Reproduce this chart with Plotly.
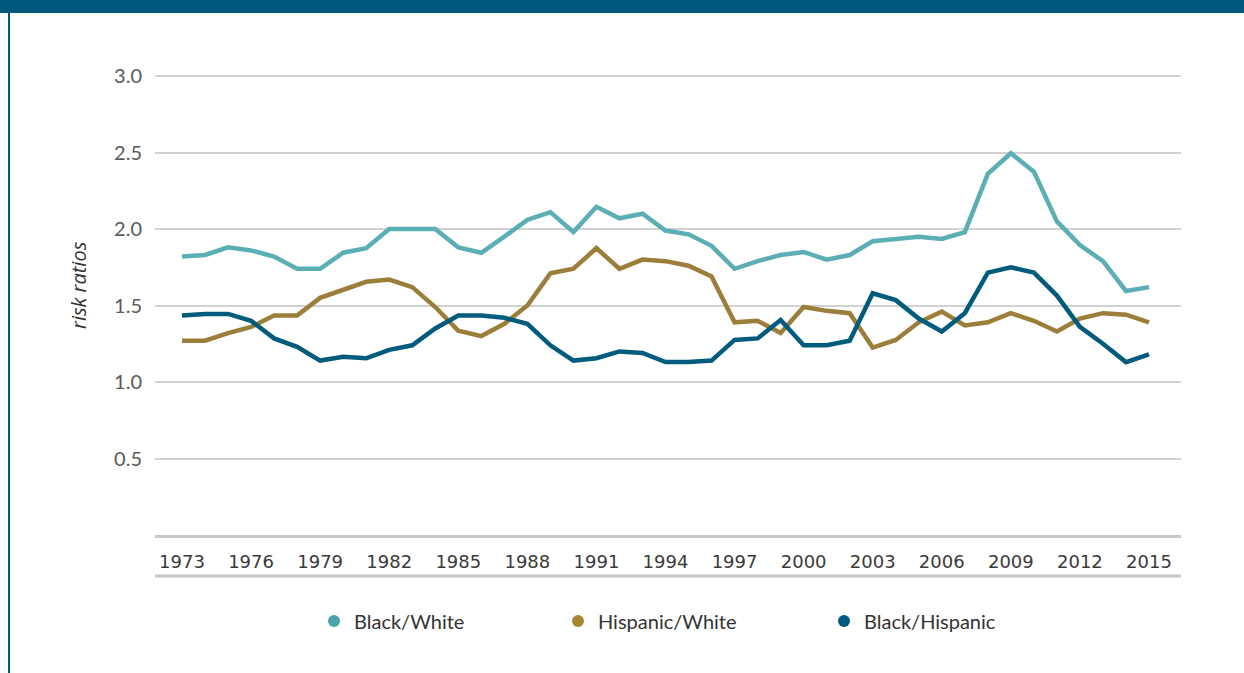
import plotly.graph_objects as go

years = list(range(1973, 2016))

black_white = [1.82, 1.83, 1.88, 1.86, 1.82, 1.74, 1.74, 1.845, 1.875, 2.0,
               2.0, 2.0, 1.88, 1.845, 1.95, 2.06, 2.11, 1.98, 2.145, 2.07,
               2.10, 1.99, 1.965, 1.89, 1.74, 1.79, 1.83, 1.85, 1.80, 1.83,
               1.92, 1.935, 1.95, 1.935, 1.98, 2.36, 2.495, 2.375, 2.05, 1.895,
               1.79, 1.595, 1.62]

hispanic_white = [1.27, 1.27, 1.32, 1.36, 1.435, 1.435, 1.55, 1.60, 1.655, 1.67,
                  1.62, 1.49, 1.335, 1.30, 1.38, 1.50, 1.71, 1.74, 1.875, 1.74,
                  1.80, 1.79, 1.76, 1.69, 1.39, 1.40, 1.32, 1.49, 1.465, 1.45,
                  1.225, 1.275, 1.39, 1.46, 1.37, 1.39, 1.45, 1.40, 1.33, 1.415,
                  1.45, 1.44, 1.39]

black_hispanic = [1.435, 1.445, 1.445, 1.40, 1.285, 1.23, 1.14, 1.165, 1.155, 1.21,
                  1.24, 1.35, 1.435, 1.435, 1.42, 1.38, 1.24, 1.14, 1.155, 1.20,
                  1.19, 1.13, 1.13, 1.14, 1.275, 1.285, 1.405, 1.24, 1.24, 1.27,
                  1.58, 1.535, 1.415, 1.33, 1.45, 1.715, 1.75, 1.715, 1.565, 1.36,
                  1.25, 1.13, 1.18]

tick_years = list(range(1973, 2016, 3))
y_ticks = [0.5, 1.0, 1.5, 2.0, 2.5, 3.0]

series_names = ["Black/White", "Hispanic/White", "Black/Hispanic"]
series_values = [black_white, hispanic_white, black_hispanic]
line_colors = ["#5aaeb4", "#9b7e3a", "#005b7d"]
legend_colors = ["#4aa3ac", "#a78733", "#005a80"]

DARK = "#005a80"

fig = go.Figure()

for name, vals, col in zip(series_names, series_values, line_colors):
    fig.add_trace(go.Scatter(x=years, y=vals, mode="lines", name=name,
                             line=dict(color=col, width=4.5), showlegend=False,
                             hoverinfo="x+y+name"))

legend_ids = ["legend", "legend2", "legend3"]
for name, col, lid in zip(series_names, legend_colors, legend_ids):
    fig.add_trace(go.Scatter(x=[None], y=[None], mode="markers", name=name,
                             marker=dict(color=col, size=15, symbol="circle"),
                             legend=lid, showlegend=True))

W, H = 1244, 673
L, R, T, B = 155, 63, 68, 138
pw, ph = W - L - R, H - T - B
Y_TOP = 3.0 * ph / (535 - 76)  # keeps 0 at 535px and 3.0 at 76px

def px_x(x):
    return (x - L) / pw

def px_y(y):
    return (H - B - y) / ph

leg_common = dict(orientation="h", xanchor="left", yanchor="middle",
                  font=dict(family="Lato", size=20, color="#333333"),
                  bgcolor="rgba(0,0,0,0)", itemsizing="constant")
legend_text_x = [356, 600, 866]
legends = {}
for lid, tx in zip(legend_ids, legend_text_x):
    d = dict(leg_common)
    d["x"] = px_x(tx - 42)
    d["y"] = px_y(621)
    legends[lid] = d

fig.update_layout(
    width=W, height=H,
    margin=dict(l=L, r=R, t=T, b=B, pad=0),
    paper_bgcolor="white", plot_bgcolor="white",
    **legends,
    xaxis=dict(range=[1973 - 27 / 23.02, 2015 + 32 / 23.02],
               tickvals=tick_years, ticktext=[str(y) for y in tick_years],
               showgrid=False, zeroline=False,
               showline=True, linecolor="#c8c8c8", linewidth=3,
               ticks="", ticklabelstandoff=8,
               tickfont=dict(family="DejaVu Sans", size=18, color="#3a3a3a")),
    yaxis=dict(range=[0, Y_TOP], tickvals=y_ticks,
               ticktext=[f"{v:.1f}" for v in y_ticks],
               showgrid=True, gridcolor="#d2d2d2", gridwidth=1.5,
               zeroline=False, showline=False, ticks="",
               ticklabelstandoff=12,
               tickfont=dict(family="Lato", size=20, color="#5a5a5a")),
    annotations=[dict(text="<i>risk ratios</i>", textangle=-90,
                      x=px_x(78), y=px_y(285), xref="paper", yref="paper",
                      xanchor="center", yanchor="middle",
                      showarrow=False,
                      font=dict(family="Open Sans", size=20, color="#333333"))],
    shapes=[
        dict(type="rect", xref="paper", yref="paper",
             x0=px_x(-2), x1=px_x(W + 2), y0=px_y(13), y1=px_y(-2),
             fillcolor=DARK, line=dict(width=0), layer="above"),
        dict(type="line", xref="paper", yref="paper",
             x0=px_x(9), x1=px_x(9), y0=px_y(13), y1=px_y(H + 2),
             line=dict(color=DARK, width=2)),
        dict(type="line", xref="paper", yref="paper",
             x0=0, x1=1, y0=px_y(576), y1=px_y(576),
             line=dict(color="#c8c8c8", width=3)),
    ],
)

fig.write_html("out.html",
               config={"displayModeBar": False},
               post_script="document.body.style.margin='0';"
                           "document.body.style.padding='0';")
